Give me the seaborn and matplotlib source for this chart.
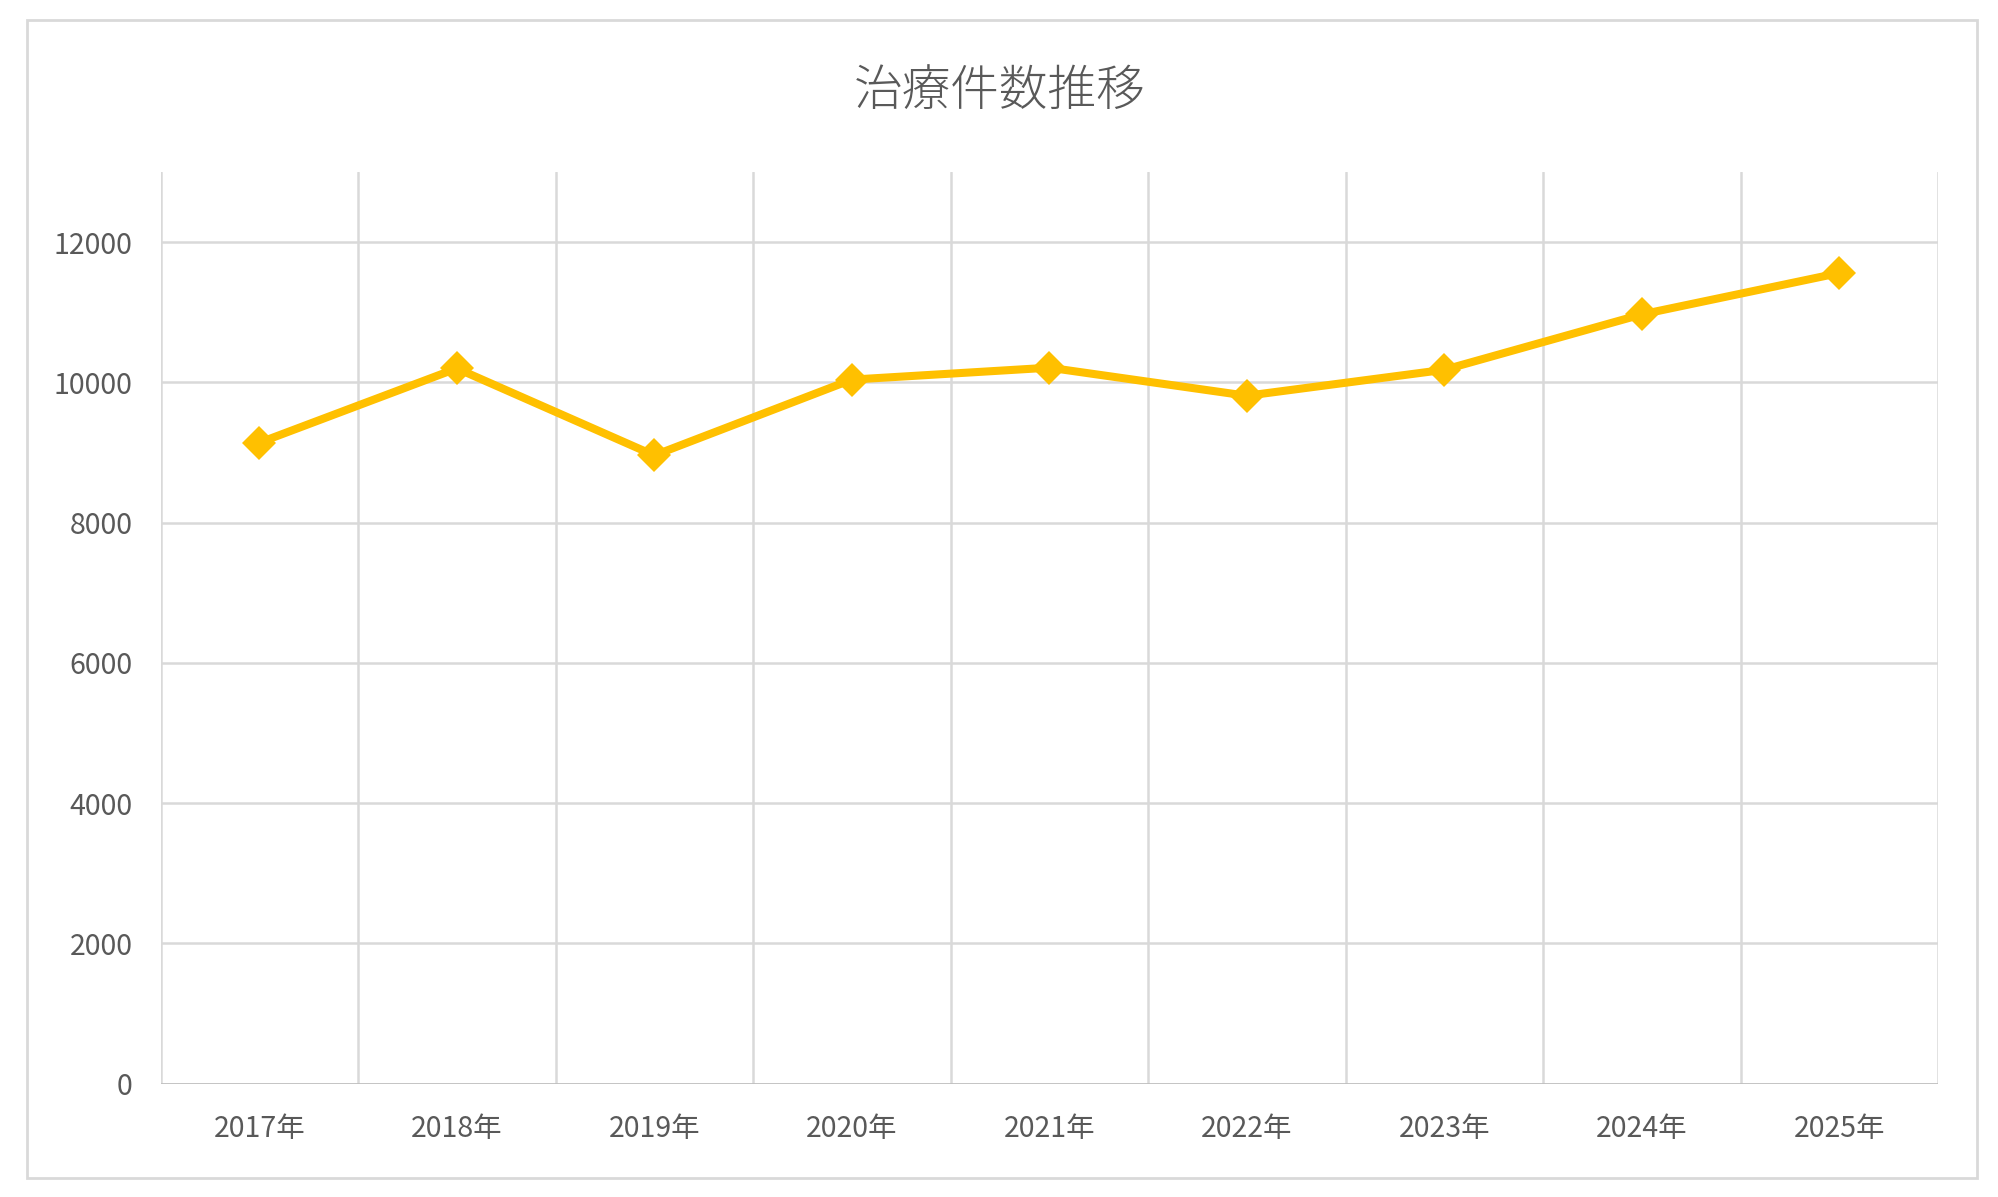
import matplotlib
matplotlib.use("Agg")
import matplotlib.pyplot as plt
from matplotlib.patches import Rectangle
import pandas as pd
import seaborn as sns

# 治療件数の推移
years = ["2017年", "2018年", "2019年", "2020年", "2021年", "2022年", "2023年", "2024年", "2025年"]
counts = [9140, 10200, 8960, 10040, 10210, 9810, 10180, 10970, 11560]
y_ticks = [0, 2000, 4000, 6000, 8000, 10000, 12000]
title = "治療件数推移"

sns.set_theme(style="white")
plt.rcParams["font.family"] = ["Noto Sans CJK JP", "DejaVu Sans"]

txt = "#595959"
grid = "#D9D9D9"

df = pd.DataFrame({"year": years, "count": counts})

fig = plt.figure(figsize=(19.99, 11.97), dpi=100)
ax = fig.add_axes([0.0803, 0.0946, 0.8892, 0.7617])

sns.lineplot(data=df, x="year", y="count", ax=ax, color="#FFC000",
             linewidth=5.8, marker="D", markersize=17, markeredgewidth=0,
             sort=False)

ax.set_ylim(0, 13000)
ax.set_xlim(-0.5, len(years) - 0.5)
ax.set_yticks(y_ticks)
ax.set_yticklabels([str(v) for v in y_ticks])

# 縦グリッド（カテゴリ境界）と横グリッド
for i in range(len(years) + 1):
    ax.axvline(i - 0.5, color=grid, lw=1.8, zorder=0)
for v in y_ticks[1:]:
    ax.axhline(v, color=grid, lw=1.8, zorder=0)
ax.axhline(0, color="#BFBFBF", lw=2.0, zorder=0)

for s in ax.spines.values():
    s.set_visible(False)
ax.tick_params(axis="y", length=0, pad=20, labelsize=20.5, labelcolor=txt)
ax.tick_params(axis="x", length=0, pad=22, labelsize=20.5, labelcolor=txt)
ax.set_xlabel("")
ax.set_ylabel("")

fig.text(0.5, 0.924, title, ha="center", va="center", fontsize=35,
         color=txt, fontweight="light")

# 外枠
fig.patches.append(Rectangle((0.0135, 0.0159), 0.9755, 0.9674, transform=fig.transFigure,
                             fill=False, edgecolor=grid, lw=2.0))

fig.savefig("out.png", dpi=100)
